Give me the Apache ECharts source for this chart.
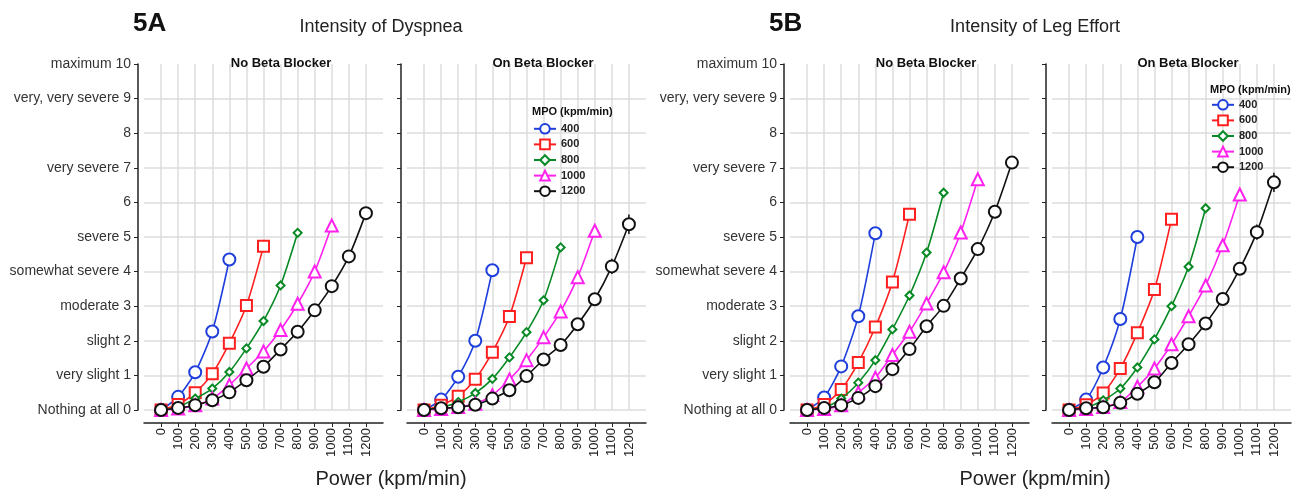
<!DOCTYPE html>
<html>
<head>
<meta charset="utf-8">
<script src="https://cdn.jsdelivr.net/npm/echarts@6/dist/echarts.min.js"></script>
<style>
html, body { margin: 0; background: #fff; }
#chart { width: 1295px; height: 491px; }
</style>
</head>
<body>
<div id="chart"></div>
<script>
// x ticks (kpm/min) and Borg scale labels
const powerTicks = ['0', '100', '200', '300', '400', '500', '600', '700', '800', '900', '1000', '1100', '1200'];
const ratingLabels = ['Nothing at all 0', 'very slight 1', 'slight 2', 'moderate 3', 'somewhat severe 4',
  'severe 5', '6', 'very severe 7', '8', 'very, very severe 9', 'maximum 10'];
const mpoNames = ['400', '600', '800', '1000', '1200'];

// 5A dyspnea, no beta blocker
const dysNo400 = [0, 0.38, 1.09, 2.27, 4.35];
const dysNo600 = [0, 0.16, 0.5, 1.05, 1.93, 3.02, 4.73];
const dysNo800 = [0, 0.09, 0.33, 0.62, 1.1, 1.78, 2.57, 3.6, 5.12];
const dysNo1000 = [0, 0.04, 0.14, 0.33, 0.72, 1.2, 1.69, 2.31, 3.07, 4.0, 5.33];
const dysNo1200 = [0, 0.06, 0.14, 0.28, 0.51, 0.86, 1.25, 1.75, 2.26, 2.88, 3.58, 4.44, 5.69];
// 5A dyspnea, on beta blocker
const dysOn400 = [0, 0.3, 0.96, 2.0, 4.04];
const dysOn600 = [0, 0.14, 0.4, 0.89, 1.67, 2.7, 4.4];
const dysOn800 = [0, 0.07, 0.23, 0.49, 0.9, 1.52, 2.25, 3.17, 4.7];
const dysOn1000 = [0, 0.03, 0.09, 0.18, 0.43, 0.88, 1.44, 2.1, 2.85, 3.84, 5.18];
const dysOn1200 = [0, 0.05, 0.08, 0.15, 0.33, 0.57, 0.98, 1.46, 1.88, 2.48, 3.2, 4.15, 5.37];
// 5B leg effort, no beta blocker
const legNo400 = [0, 0.36, 1.26, 2.71, 5.11];
const legNo600 = [0, 0.16, 0.59, 1.37, 2.4, 3.7, 5.66];
const legNo800 = [0, 0.07, 0.33, 0.79, 1.44, 2.33, 3.31, 4.55, 6.28];
const legNo1000 = [0, 0.03, 0.14, 0.5, 0.93, 1.59, 2.26, 3.08, 3.98, 5.13, 6.67];
const legNo1200 = [0, 0.06, 0.14, 0.35, 0.69, 1.18, 1.76, 2.42, 3.01, 3.8, 4.65, 5.73, 7.15];
// 5B leg effort, on beta blocker
const legOn400 = [0, 0.3, 1.23, 2.63, 5.0];
const legOn600 = [0, 0.15, 0.49, 1.2, 2.23, 3.48, 5.51];
const legOn800 = [0, 0.07, 0.28, 0.62, 1.23, 2.04, 3.0, 4.14, 5.83];
const legOn1000 = [0, 0.03, 0.09, 0.23, 0.67, 1.2, 1.9, 2.71, 3.6, 4.76, 6.23];
const legOn1200 = [0, 0.05, 0.08, 0.21, 0.47, 0.8, 1.36, 1.9, 2.5, 3.21, 4.08, 5.14, 6.58];

// visible error bars (index into powerTicks, half width)
const errOn1200Dys = [[11, 0.22], [12, 0.28]];
const errOn1200Leg = [[10, 0.12], [11, 0.22], [12, 0.28]];

const colors = ['#1f3fdc', '#ff1f1f', '#078a24', '#ff22ee', '#111111'];
const symbols = ['emptyCircle', 'emptyRect', 'emptyDiamond', 'emptyTriangle', 'emptyCircle'];
const symbolSizes = [12, 11, 8, 12, 12];

const panels = [
  { left: 144, lines: [dysNo400, dysNo600, dysNo800, dysNo1000, dysNo1200], labels: true },
  { left: 407, lines: [dysOn400, dysOn600, dysOn800, dysOn1000, dysOn1200], labels: false, err: errOn1200Dys },
  { left: 790, lines: [legNo400, legNo600, legNo800, legNo1000, legNo1200], labels: true },
  { left: 1052, lines: [legOn400, legOn600, legOn800, legOn1000, legOn1200], labels: false, err: errOn1200Leg }
];

// pad one category each side so the first/last points sit inside the frame
const xCats = [''].concat(powerTicks, [' ']);
const inner = (i) => i > 0 && i < xCats.length - 1;
const font = 'Liberation Sans, Arial, sans-serif';
const gridColor = '#dcdcdc';

const chart = echarts.init(document.getElementById('chart'));

const grid = [], xAxis = [], yAxis = [], series = [];
panels.forEach((p, k) => {
  grid.push({ left: p.left, width: 239, top: 64, height: 346 });
  xAxis.push({
    type: 'category', gridIndex: k, data: xCats, boundaryGap: false, offset: 13,
    axisLine: { onZero: false, lineStyle: { color: '#222', width: 1.5 } },
    axisTick: { interval: inner, length: 4, lineStyle: { color: '#222' } },
    axisLabel: { interval: inner, rotate: 90, margin: 5, fontSize: 13, color: '#222', fontFamily: font },
    splitLine: { show: true, interval: inner, lineStyle: { color: gridColor, width: 1.5 } }
  });
  yAxis.push({
    type: 'value', gridIndex: k, min: 0, max: 10, interval: 1, offset: 6,
    axisLine: { show: true, onZero: false, lineStyle: { color: '#222', width: 1.5 } },
    axisTick: { show: true, length: 4, lineStyle: { color: '#222' } },
    axisLabel: {
      show: p.labels, margin: 7, fontSize: 14, color: '#333', fontFamily: font,
      formatter: (v) => ratingLabels[v]
    },
    splitLine: { show: true, showMaxLine: false, lineStyle: { color: gridColor, width: 1.5 } }
  });
  p.lines.forEach((vals, j) => {
    series.push({
      name: mpoNames[j], type: 'line', xAxisIndex: k, yAxisIndex: k,
      data: [null].concat(vals),
      smooth: 0.25, symbol: symbols[j], symbolSize: symbolSizes[j],
      color: colors[j],
      lineStyle: { color: colors[j], width: 1.6 },
      itemStyle: { color: colors[j], borderColor: colors[j], borderWidth: 1.8 },
      z: 3 + j
    });
  });
  if (p.err) {
    const src = p.lines[4];
    series.push({
      type: 'custom', xAxisIndex: k, yAxisIndex: k, z: 2,
      data: p.err.map(([i, e]) => [i + 1, src[i] - e, src[i] + e]),
      renderItem: (params, api) => {
        const lo = api.coord([api.value(0), api.value(1)]);
        const hi = api.coord([api.value(0), api.value(2)]);
        return { type: 'line', shape: { x1: lo[0], y1: lo[1], x2: hi[0], y2: hi[1] },
          style: { stroke: '#111', lineWidth: 1.5 } };
      }
    });
  }
});

const legendBase = {
  data: mpoNames, orient: 'vertical', itemWidth: 22, itemHeight: 12, itemGap: 4,
  textStyle: { fontSize: 11, fontWeight: 'bold', color: '#222', fontFamily: font }
};

const option = {
  animation: false,
  grid: grid, xAxis: xAxis, yAxis: yAxis, series: series,
  legend: [
    Object.assign({ left: 528, top: 118 }, legendBase),
    Object.assign({ left: 1206, top: 94 }, legendBase)
  ],
  title: [
    { text: '5A', left: 128, top: 6, textStyle: { fontSize: 26, fontWeight: 'bold', color: '#111', fontFamily: font } },
    { text: 'Intensity of Dyspnea', left: 376, top: 13, textAlign: 'center', textStyle: { fontSize: 18, fontWeight: 'normal', color: '#222', fontFamily: font } },
    { text: '5B', left: 764, top: 6, textStyle: { fontSize: 26, fontWeight: 'bold', color: '#111', fontFamily: font } },
    { text: 'Intensity of Leg Effort', left: 1030, top: 13, textAlign: 'center', textStyle: { fontSize: 18, fontWeight: 'normal', color: '#222', fontFamily: font } },
    { text: 'No Beta Blocker', left: 276, top: 52, textAlign: 'center', textStyle: { fontSize: 13, fontWeight: 'bold', color: '#111', fontFamily: font } },
    { text: 'On Beta Blocker', left: 538, top: 52, textAlign: 'center', textStyle: { fontSize: 13, fontWeight: 'bold', color: '#111', fontFamily: font } },
    { text: 'No Beta Blocker', left: 921, top: 52, textAlign: 'center', textStyle: { fontSize: 13, fontWeight: 'bold', color: '#111', fontFamily: font } },
    { text: 'On Beta Blocker', left: 1183, top: 52, textAlign: 'center', textStyle: { fontSize: 13, fontWeight: 'bold', color: '#111', fontFamily: font } },
    { text: 'MPO (kpm/min)', left: 527, top: 101, textStyle: { fontSize: 11, fontWeight: 'bold', color: '#111', fontFamily: font } },
    { text: 'MPO (kpm/min)', left: 1205, top: 79, textStyle: { fontSize: 11, fontWeight: 'bold', color: '#111', fontFamily: font } },
    { text: 'Power (kpm/min)', left: 386, top: 464, textAlign: 'center', textStyle: { fontSize: 20, fontWeight: 'normal', color: '#222', fontFamily: font } },
    { text: 'Power (kpm/min)', left: 1030, top: 464, textAlign: 'center', textStyle: { fontSize: 20, fontWeight: 'normal', color: '#222', fontFamily: font } }
  ]
};

chart.setOption(option);
</script>
</body>
</html>
